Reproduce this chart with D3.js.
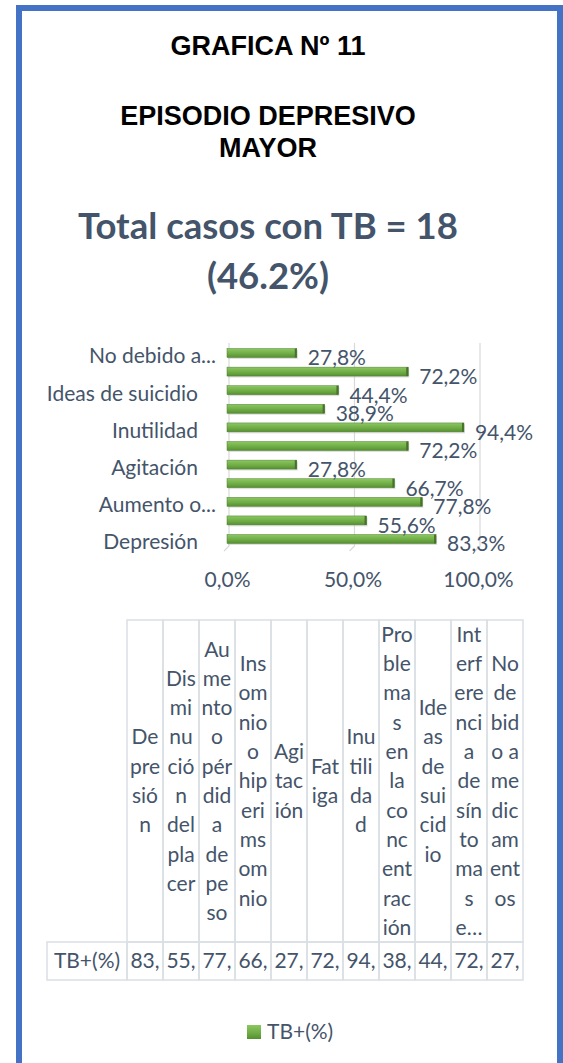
<!DOCTYPE html>
<html>
<head>
<meta charset="utf-8">
<script src="https://cdn.jsdelivr.net/npm/d3@7"></script>
<style>
  body { margin: 0; background: #fff; }
  svg { display: block; }
</style>
</head>
<body>
<div id="chart"></div>
<script>
// data
var categories = ["Depresión", "Disminución del placer", "Aumento o pérdida de peso",
  "Insomnio o hipersomnio", "Agitación", "Fatiga", "Inutilidad",
  "Problemas en la concentración", "Ideas de suicidio",
  "Interferencia de síntomas en la vida diaria", "No debido a medicamentos"];
var values = [83.3, 55.6, 77.8, 66.7, 27.8, 72.2, 94.4, 38.9, 44.4, 72.2, 27.8];
var seriesName = "TB+(%)";
var xTicks = [0, 50, 100];
// header of the data table, as wrapped in the picture
var headerLines = [
  ["De", "pre", "sió", "n"],
  ["Dis", "mi", "nu", "ció", "n", "del", "pla", "cer"],
  ["Au", "me", "nto", "o", "pér", "did", "a", "de", "pe", "so"],
  ["Ins", "om", "nio", "o", "hip", "eri", "ms", "om", "nio"],
  ["Agi", "tac", "ión"],
  ["Fat", "iga"],
  ["Inu", "tili", "da", "d"],
  ["Pro", "ble", "ma", "s", "en", "la", "co", "nc", "ent", "rac", "ión"],
  ["Ide", "as", "de", "sui", "cid", "io"],
  ["Int", "erf", "ere", "nci", "a", "de", "sín", "to", "ma", "s", "e…"],
  ["No", "de", "bid", "o a", "me", "dic", "am", "ent", "os"]
];

var width = 563, height = 1063;
var textColor = "#44546A";
var font = "Lato, 'Open Sans', sans-serif";
var fs = "21px";
var fmt = function (v) { return d3.format(".1f")(v).replace(".", ",") + "%"; };

var svg = d3.select("#chart").append("svg")
  .attr("width", width)
  .attr("height", height);

// frame
svg.append("rect")
  .attr("x", 19).attr("y", 8)
  .attr("width", 541).attr("height", 1080)
  .attr("fill", "#fff")
  .attr("stroke", "#4472C4")
  .attr("stroke-width", 6);

var cx = 268;

// titles
function blackTitle(txt, yy) {
  svg.append("text").attr("x", cx).attr("y", yy)
    .attr("text-anchor", "middle")
    .style("font-family", "'Liberation Sans', Arial, sans-serif")
    .style("font-weight", "bold").style("font-size", "27px")
    .text(txt);
}
blackTitle("GRAFICA Nº 11", 55);
blackTitle("EPISODIO DEPRESIVO", 125);
blackTitle("MAYOR", 157);

svg.append("text").attr("x", cx).attr("y", 239)
  .attr("text-anchor", "middle")
  .style("font-family", font).style("font-weight", "bold")
  .style("font-size", "36.5px").attr("fill", textColor)
  .text("Total casos con TB = 18");
svg.append("text").attr("x", cx).attr("y", 289)
  .attr("text-anchor", "middle")
  .style("font-family", font).style("font-weight", "bold")
  .style("font-size", "36.5px").attr("fill", textColor)
  .text("(46.2%)");

// bar chart
var x = d3.scaleLinear().domain([0, 100]).range([227, 478]);
var y = d3.scaleBand()
  .domain(categories.slice().reverse())
  .range([343.7, 548.3])
  .paddingInner(0.52).paddingOuter(0.26);

var defs = svg.append("defs");
var grad = defs.append("linearGradient").attr("id", "barGrad")
  .attr("x1", 0).attr("y1", 0).attr("x2", 0).attr("y2", 1);
grad.append("stop").attr("offset", "0%").attr("stop-color", "#8CC862");
grad.append("stop").attr("offset", "55%").attr("stop-color", "#70AD47");
grad.append("stop").attr("offset", "100%").attr("stop-color", "#55902F");

// gridlines with little 3D foot
var grid = svg.append("g");
xTicks.forEach(function (t) {
  grid.append("path")
    .attr("d", "M" + (x(t) + 2) + ",343 L" + (x(t) + 2) + ",546 L" + (x(t) - 3) + ",551")
    .attr("fill", "none")
    .attr("stroke", "#D9D9D9")
    .attr("stroke-width", 1.2);
});

var rows = svg.append("g").selectAll("g")
  .data(categories)
  .enter().append("g");

// shadow
rows.append("rect")
  .attr("x", x(0) + 1)
  .attr("y", function (d) { return y(d) + 1.5; })
  .attr("width", function (d, i) { return x(values[i]) - x(0); })
  .attr("height", y.bandwidth())
  .attr("fill", "#BFBFBF").attr("opacity", 0.5);

rows.append("rect")
  .attr("x", x(0))
  .attr("y", function (d) { return y(d); })
  .attr("width", function (d, i) { return x(values[i]) - x(0); })
  .attr("height", y.bandwidth())
  .attr("fill", "url(#barGrad)")
  .attr("stroke", "#507E32")
  .attr("stroke-width", 0.5);

// right end cap
rows.append("rect")
  .attr("x", function (d, i) { return x(values[i]) - 2; })
  .attr("y", function (d) { return y(d); })
  .attr("width", 2)
  .attr("height", y.bandwidth())
  .attr("fill", "#46722A");

// data labels
rows.append("text")
  .attr("x", function (d, i) { return x(values[i]) + 11; })
  .attr("y", function (d) { return y(d) + y.bandwidth() / 2 + 5; })
  .attr("dy", "0.35em")
  .style("font-family", font).style("font-size", fs)
  .attr("fill", textColor)
  .text(function (d, i) { return fmt(values[i]); });

// category labels (every other one, truncated when long)
var catG = svg.append("g");
categories.forEach(function (c, i) {
  if (i % 2 !== 0) return;
  var t = catG.append("text")
    .attr("y", y(c) + y.bandwidth() / 2 + 3)
    .attr("dy", "0.35em")
    .attr("text-anchor", "end")
    .style("font-family", font).style("font-size", fs)
    .attr("fill", textColor)
    .text(c);
  var truncated = false;
  if (t.node().getComputedTextLength() > 170) {
    var words = c.split(" ");
    while (words.length > 1) {
      words.pop();
      t.text(words.join(" ") + "...");
      if (t.node().getComputedTextLength() <= 170) break;
    }
    truncated = true;
  }
  t.attr("x", truncated ? 216 : 198);
});

// x axis labels
var xAxis = d3.axisBottom(x)
  .tickValues(xTicks)
  .tickSize(0)
  .tickPadding(0)
  .tickFormat(fmt);
var axG = svg.append("g")
  .attr("transform", "translate(0,572)")
  .call(xAxis);
axG.select(".domain").remove();
axG.selectAll("text")
  .style("font-family", font).style("font-size", fs)
  .attr("fill", textColor).attr("dy", "0.71em");

// data table
var colX = d3.scaleBand().domain(categories).range([127, 523]);
var headTop = 620, headBottom = 942, rowBottom = 980, labelLeft = 47;
var lineH = 29.3;
var gridColor = "#DADFE5";
var table = svg.append("g");

// header cells
table.selectAll("rect.head")
  .data(categories).enter().append("rect")
  .attr("class", "head")
  .attr("x", function (d) { return colX(d); })
  .attr("y", headTop)
  .attr("width", colX.bandwidth())
  .attr("height", headBottom - headTop)
  .attr("fill", "none").attr("stroke", gridColor).attr("stroke-width", 1.5);

// value cells
table.selectAll("rect.val")
  .data(categories).enter().append("rect")
  .attr("class", "val")
  .attr("x", function (d) { return colX(d); })
  .attr("y", headBottom)
  .attr("width", colX.bandwidth())
  .attr("height", rowBottom - headBottom)
  .attr("fill", "none").attr("stroke", gridColor).attr("stroke-width", 1.5);

table.append("rect")
  .attr("x", labelLeft).attr("y", headBottom)
  .attr("width", 127 - labelLeft).attr("height", rowBottom - headBottom)
  .attr("fill", "none").attr("stroke", gridColor).attr("stroke-width", 1.5);

var midHead = (headTop + headBottom) / 2;
categories.forEach(function (c, i) {
  var lines = headerLines[i];
  var t = table.append("text")
    .attr("text-anchor", "middle")
    .style("font-family", font).style("font-size", fs)
    .attr("fill", textColor);
  lines.forEach(function (l, k) {
    t.append("tspan")
      .attr("x", colX(c) + colX.bandwidth() / 2)
      .attr("y", midHead + (k - (lines.length - 1) / 2) * lineH)
      .attr("dy", "0.35em")
      .text(l);
  });
  // values, cut to the cell width
  var s = fmt(values[i]);
  var v = table.append("text")
    .attr("x", colX(c) + colX.bandwidth() / 2)
    .attr("y", (headBottom + rowBottom) / 2)
    .attr("dy", "0.35em")
    .attr("text-anchor", "middle")
    .style("font-family", font).style("font-size", fs)
    .attr("fill", textColor)
    .text(s);
  while (v.node().getComputedTextLength() > colX.bandwidth() - 3 && s.length > 1) {
    s = s.slice(0, -1);
    v.text(s);
  }
});

table.append("text")
  .attr("x", (labelLeft + 127) / 2)
  .attr("y", (headBottom + rowBottom) / 2)
  .attr("dy", "0.35em")
  .attr("text-anchor", "middle")
  .style("font-family", font).style("font-size", fs)
  .attr("fill", textColor)
  .text(seriesName);

// legend
var legend = svg.append("g").attr("transform", "translate(247,1025)");
legend.append("rect").attr("width", 14).attr("height", 14).attr("fill", "url(#barGrad)");
legend.append("text")
  .attr("x", 20).attr("y", 7).attr("dy", "0.35em")
  .style("font-family", font).style("font-size", fs)
  .attr("fill", textColor)
  .text(seriesName);
</script>
</body>
</html>
